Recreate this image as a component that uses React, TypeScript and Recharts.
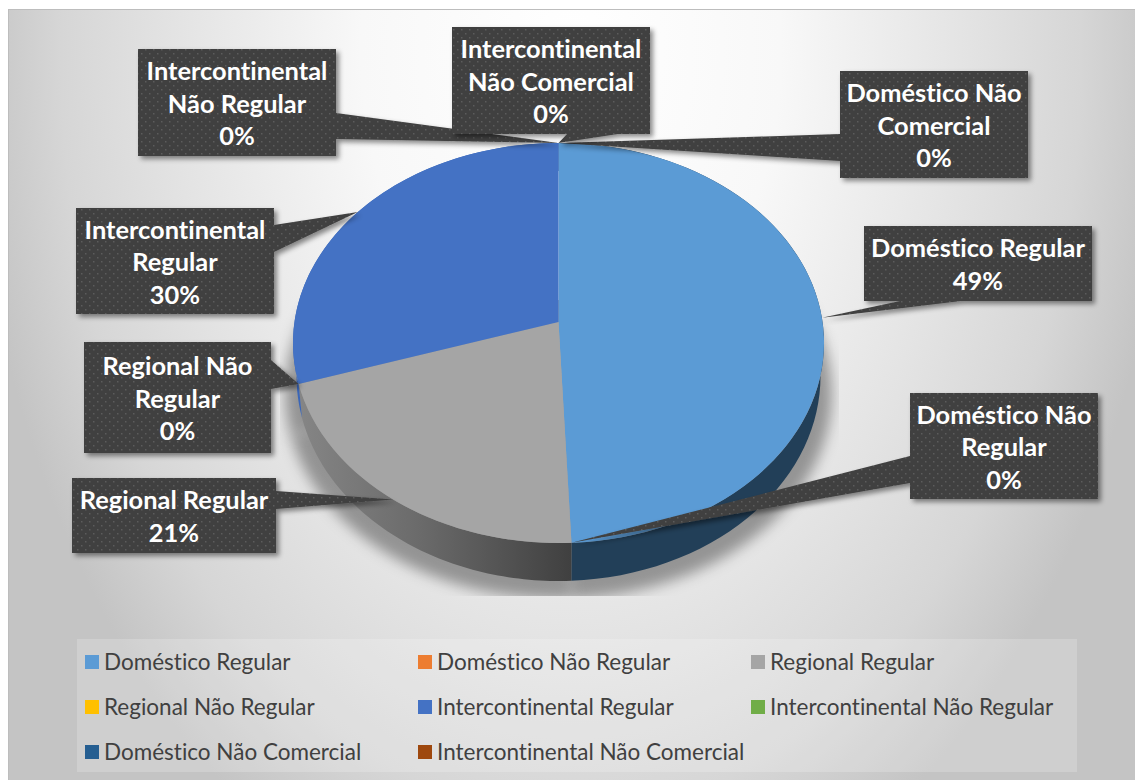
import React from "react";
import { PieChart, Pie, Legend } from "recharts";

const categories = [
  "Doméstico Regular",
  "Doméstico Não Regular",
  "Regional Regular",
  "Regional Não Regular",
  "Intercontinental Regular",
  "Intercontinental Não Regular",
  "Doméstico Não Comercial",
  "Intercontinental Não Comercial",
];
const shares = [49.3, 0, 20.8, 0, 29.9, 0, 0, 0];
const topColors = ["#5B9BD5", "#ED7D31", "#A5A5A5", "#FFC000", "#4472C4", "#70AD47", "#255E91", "#9E480E"];
const wallColors = ["#223F58", "#223F58", "url(#grayWall)", "#2F4F8C", "#3A66B8", "#3A66B8", "#3A66B8", "#3A66B8"];
const calloutLines = [
  ["Doméstico Regular"],
  ["Doméstico Não", "Regular"],
  ["Regional Regular"],
  ["Regional Não", "Regular"],
  ["Intercontinental", "Regular"],
  ["Intercontinental", "Não Regular"],
  ["Doméstico Não", "Comercial"],
  ["Intercontinental", "Não Comercial"],
];

// Layout of the hand-placed callouts: box [x0,y0,x1,y1], the box side the wedge leaves from, and the wedge base.
const calloutLayout: { box: number[]; side: string; base: number[] }[] = [
  { box: [864, 226, 1092, 301], side: "bottom", base: [900, 961] },
  { box: [910, 393, 1098, 499], side: "left", base: [456, 483] },
  { box: [72, 478, 276, 553], side: "right", base: [491, 509] },
  { box: [84, 342, 271, 453], side: "right", base: [360, 389] },
  { box: [76, 208, 274, 314], side: "right", base: [225, 252] },
  { box: [138, 49, 336, 156], side: "right", base: [113, 139] },
  { box: [840, 71, 1028, 178], side: "left", base: [134, 161] },
  { box: [452, 27, 650, 134], side: "bottom", base: [567, 618] },
];

const table = categories.map((name, i) => ({ name, value: shares[i], fill: topColors[i] }));
const wallTable = categories.map((name, i) => ({ name, value: shares[i], fill: wallColors[i] }));

const CX = 558.5;
const CY = 343;
const RX = 265.5;
const SQUASH = 200 / 265.5;
const TILT = -0.105;
const WALL_CY = 376;
const WALL_RX = 262;
const WALL_RY = 205;

// Projects a pie angle (recharts convention) onto the tilted top face.
function project(angle: number, cx: number, cy: number, rx: number) {
  const t = ((90 - angle) * Math.PI) / 180;
  const u = Math.sin(t);
  const v = -Math.cos(t);
  const ry = rx * SQUASH;
  const w = 1 + TILT * v;
  const shift = TILT * ry;
  const y = (ry * v + shift) / w;
  const x = (rx * Math.sqrt(1 - TILT * TILT) * u) / w;
  return { x: cx + x, y: cy + y };
}

function facePath(p: any, dy = 0, grow = 0) {
  const rx = p.outerRadius + grow;
  const ry = rx * SQUASH;
  const cy = p.cy + dy;
  const a = project(p.startAngle, p.cx, cy, rx);
  const b = project(p.endAngle, p.cx, cy, rx);
  const apex = { x: p.cx, y: cy + TILT * ry };
  const large = Math.abs(p.endAngle - p.startAngle) > 180 ? 1 : 0;
  return `M${apex.x},${apex.y}L${a.x},${a.y}A${rx},${ry} 0 ${large} 1 ${b.x},${b.y}Z`;
}

function TopFace(p: any) {
  if (p.startAngle === p.endAngle) return <g />;
  return <path d={facePath(p)} fill={p.fill} />;
}

function ShadowFace(p: any) {
  if (p.startAngle === p.endAngle) return <g />;
  return (
    <g clipPath="url(#pieShadowClip)">
      <path d={facePath(p, 50, 8)} fill="#000" fillOpacity={0.36} filter="url(#pieBlur)" />
    </g>
  );
}

function WallFace(p: any) {
  if (p.startAngle === p.endAngle) return <g />;
  const steps = 72;
  const upper: string[] = [];
  const lower: string[] = [];
  for (let i = 0; i <= steps; i++) {
    const ang = p.startAngle + ((p.endAngle - p.startAngle) * i) / steps;
    const q = project(ang, p.cx, p.cy, p.outerRadius);
    const t = Math.atan2(q.x - p.cx, -(q.y - p.cy) / SQUASH);
    upper.push(`${q.x},${q.y}`);
    lower.unshift(`${p.cx + WALL_RX * Math.sin(t)},${WALL_CY - WALL_RY * Math.cos(t)}`);
  }
  return <polygon points={[...upper, ...lower].join(" ")} fill={p.fill} />;
}

function calloutPath(l: { box: number[]; side: string; base: number[] }, tip: { x: number; y: number }) {
  const [x0, y0, x1, y1] = l.box;
  const [a, b] = l.base;
  const t = `${tip.x},${tip.y}`;
  if (l.side === "bottom") return `M${x0},${y0}L${x1},${y0}L${x1},${y1}L${b},${y1}L${t}L${a},${y1}L${x0},${y1}Z`;
  if (l.side === "left") return `M${x0},${y0}L${x1},${y0}L${x1},${y1}L${x0},${y1}L${x0},${b}L${t}L${x0},${a}Z`;
  return `M${x0},${y0}L${x1},${y0}L${x1},${a}L${t}L${x1},${b}L${x1},${y1}L${x0},${y1}Z`;
}

function Callout(p: any) {
  const i = p.index;
  const l = calloutLayout[i];
  const tip = project(p.midAngle, p.cx, p.cy, p.outerRadius);
  const lines = [...calloutLines[i], `${Math.round(p.percent * 100)}%`];
  const mx = (l.box[0] + l.box[2]) / 2;
  const my = (l.box[1] + l.box[3]) / 2;
  return (
    <g>
      <path d={calloutPath(l, tip)} fill="url(#calloutDots)" filter="url(#calloutShadow)" />
      {lines.map((s, k) => (
        <text
          key={k}
          x={mx}
          y={my + (k - (lines.length - 1) / 2) * 32.5 + 10}
          textAnchor="middle"
          fill="#fff"
          stroke="none"
          fontFamily="Lato, sans-serif"
          fontWeight={700}
          fontSize={25.4}
          style={{ fontVariantLigatures: "none" }}
        >
          {s}
        </text>
      ))}
    </g>
  );
}

const legendCols = [8, 341, 674];
function LegendPanel(props: any) {
  const items = (props.payload || []).filter((e: any) => e.type !== "none");
  const ordered = categories.map((c) => items.find((e: any) => e.value === c)).filter(Boolean);
  return (
    <div style={{ position: "relative", width: 1000, height: 133, background: "rgba(255,255,255,0.2)" }}>
      {ordered.map((e: any, i: number) => (
        <div
          key={e.value}
          style={{
            position: "absolute",
            left: legendCols[i % 3],
            top: Math.floor(i / 3) * 45,
            height: 45,
            display: "flex",
            alignItems: "center",
            whiteSpace: "nowrap",
            fontFamily: "Lato, sans-serif",
            fontVariantLigatures: "none",
            fontSize: 22.5,
            color: "#404040",
          }}
        >
          <span style={{ width: 14, height: 14, background: e.color, marginRight: 5, display: "inline-block" }} />
          {e.value}
        </div>
      ))}
    </div>
  );
}

export default function App() {
  return (
    <div style={{ position: "absolute", left: 0, top: 0, width: 1135, height: 780, overflow: "hidden", background: "#fff" }}>
      <div
        style={{
          position: "absolute",
          left: 8,
          top: 9,
          width: 1127,
          height: 771,
          boxSizing: "border-box",
          borderTop: "1px solid #bdbdbd",
          borderLeft: "1px solid #bdbdbd",
          background:
            "radial-gradient(ellipse 600px 900px at 562px 40px, #ffffff 0%, #f8f8f8 35%, #e4e4e4 65%, #d6d6d6 85%, #c4c4c4 100%)",
        }}
      />
      <PieChart width={1135} height={780} margin={{ top: 0, right: 0, bottom: 0, left: 0 }} style={{ position: "absolute", left: 0, top: 0 }}>
        <defs>
          <clipPath id="pieShadowClip">
            <rect x={280} y={300} width={559} height={296} />
          </clipPath>
          <filter id="pieBlur" x="-20%" y="-20%" width="140%" height="140%">
            <feGaussianBlur stdDeviation={7} />
          </filter>
          <filter id="calloutShadow" x="-10%" y="-10%" width="120%" height="125%">
            <feDropShadow dx={3} dy={3} stdDeviation={2.5} floodColor="#000" floodOpacity={0.45} />
          </filter>
          <linearGradient id="grayWall" gradientUnits="userSpaceOnUse" x1={300} y1={0} x2={571} y2={0}>
            <stop offset="0%" stopColor="#858585" />
            <stop offset="45%" stopColor="#6a6a6a" />
            <stop offset="100%" stopColor="#404040" />
          </linearGradient>
          <pattern id="calloutDots" patternUnits="userSpaceOnUse" width={8} height={8}>
            <rect width={8} height={8} fill="#404040" />
            <rect x={1} y={1} width={1.5} height={1.5} fill="#5c5c5c" />
            <rect x={5} y={5} width={1.5} height={1.5} fill="#5c5c5c" />
          </pattern>
        </defs>
        <Pie data={wallTable} dataKey="value" nameKey="name" cx={CX} cy={CY} outerRadius={RX} startAngle={90} endAngle={-270}
          shape={ShadowFace} legendType="none" isAnimationActive={false} />
        <Pie data={wallTable} dataKey="value" nameKey="name" cx={CX} cy={CY} outerRadius={RX} startAngle={90} endAngle={-270}
          shape={WallFace} legendType="none" isAnimationActive={false} />
        <Pie data={table} dataKey="value" nameKey="name" cx={CX} cy={CY} outerRadius={RX} startAngle={90} endAngle={-270}
          shape={TopFace} label={Callout} labelLine={false} isAnimationActive={false} />
        <Legend
          content={LegendPanel}
          verticalAlign="bottom"
          itemSorter={null}
          wrapperStyle={{ position: "absolute", left: 77, top: 639, width: 1000, height: 133, bottom: "auto" }}
        />
      </PieChart>
    </div>
  );
}
